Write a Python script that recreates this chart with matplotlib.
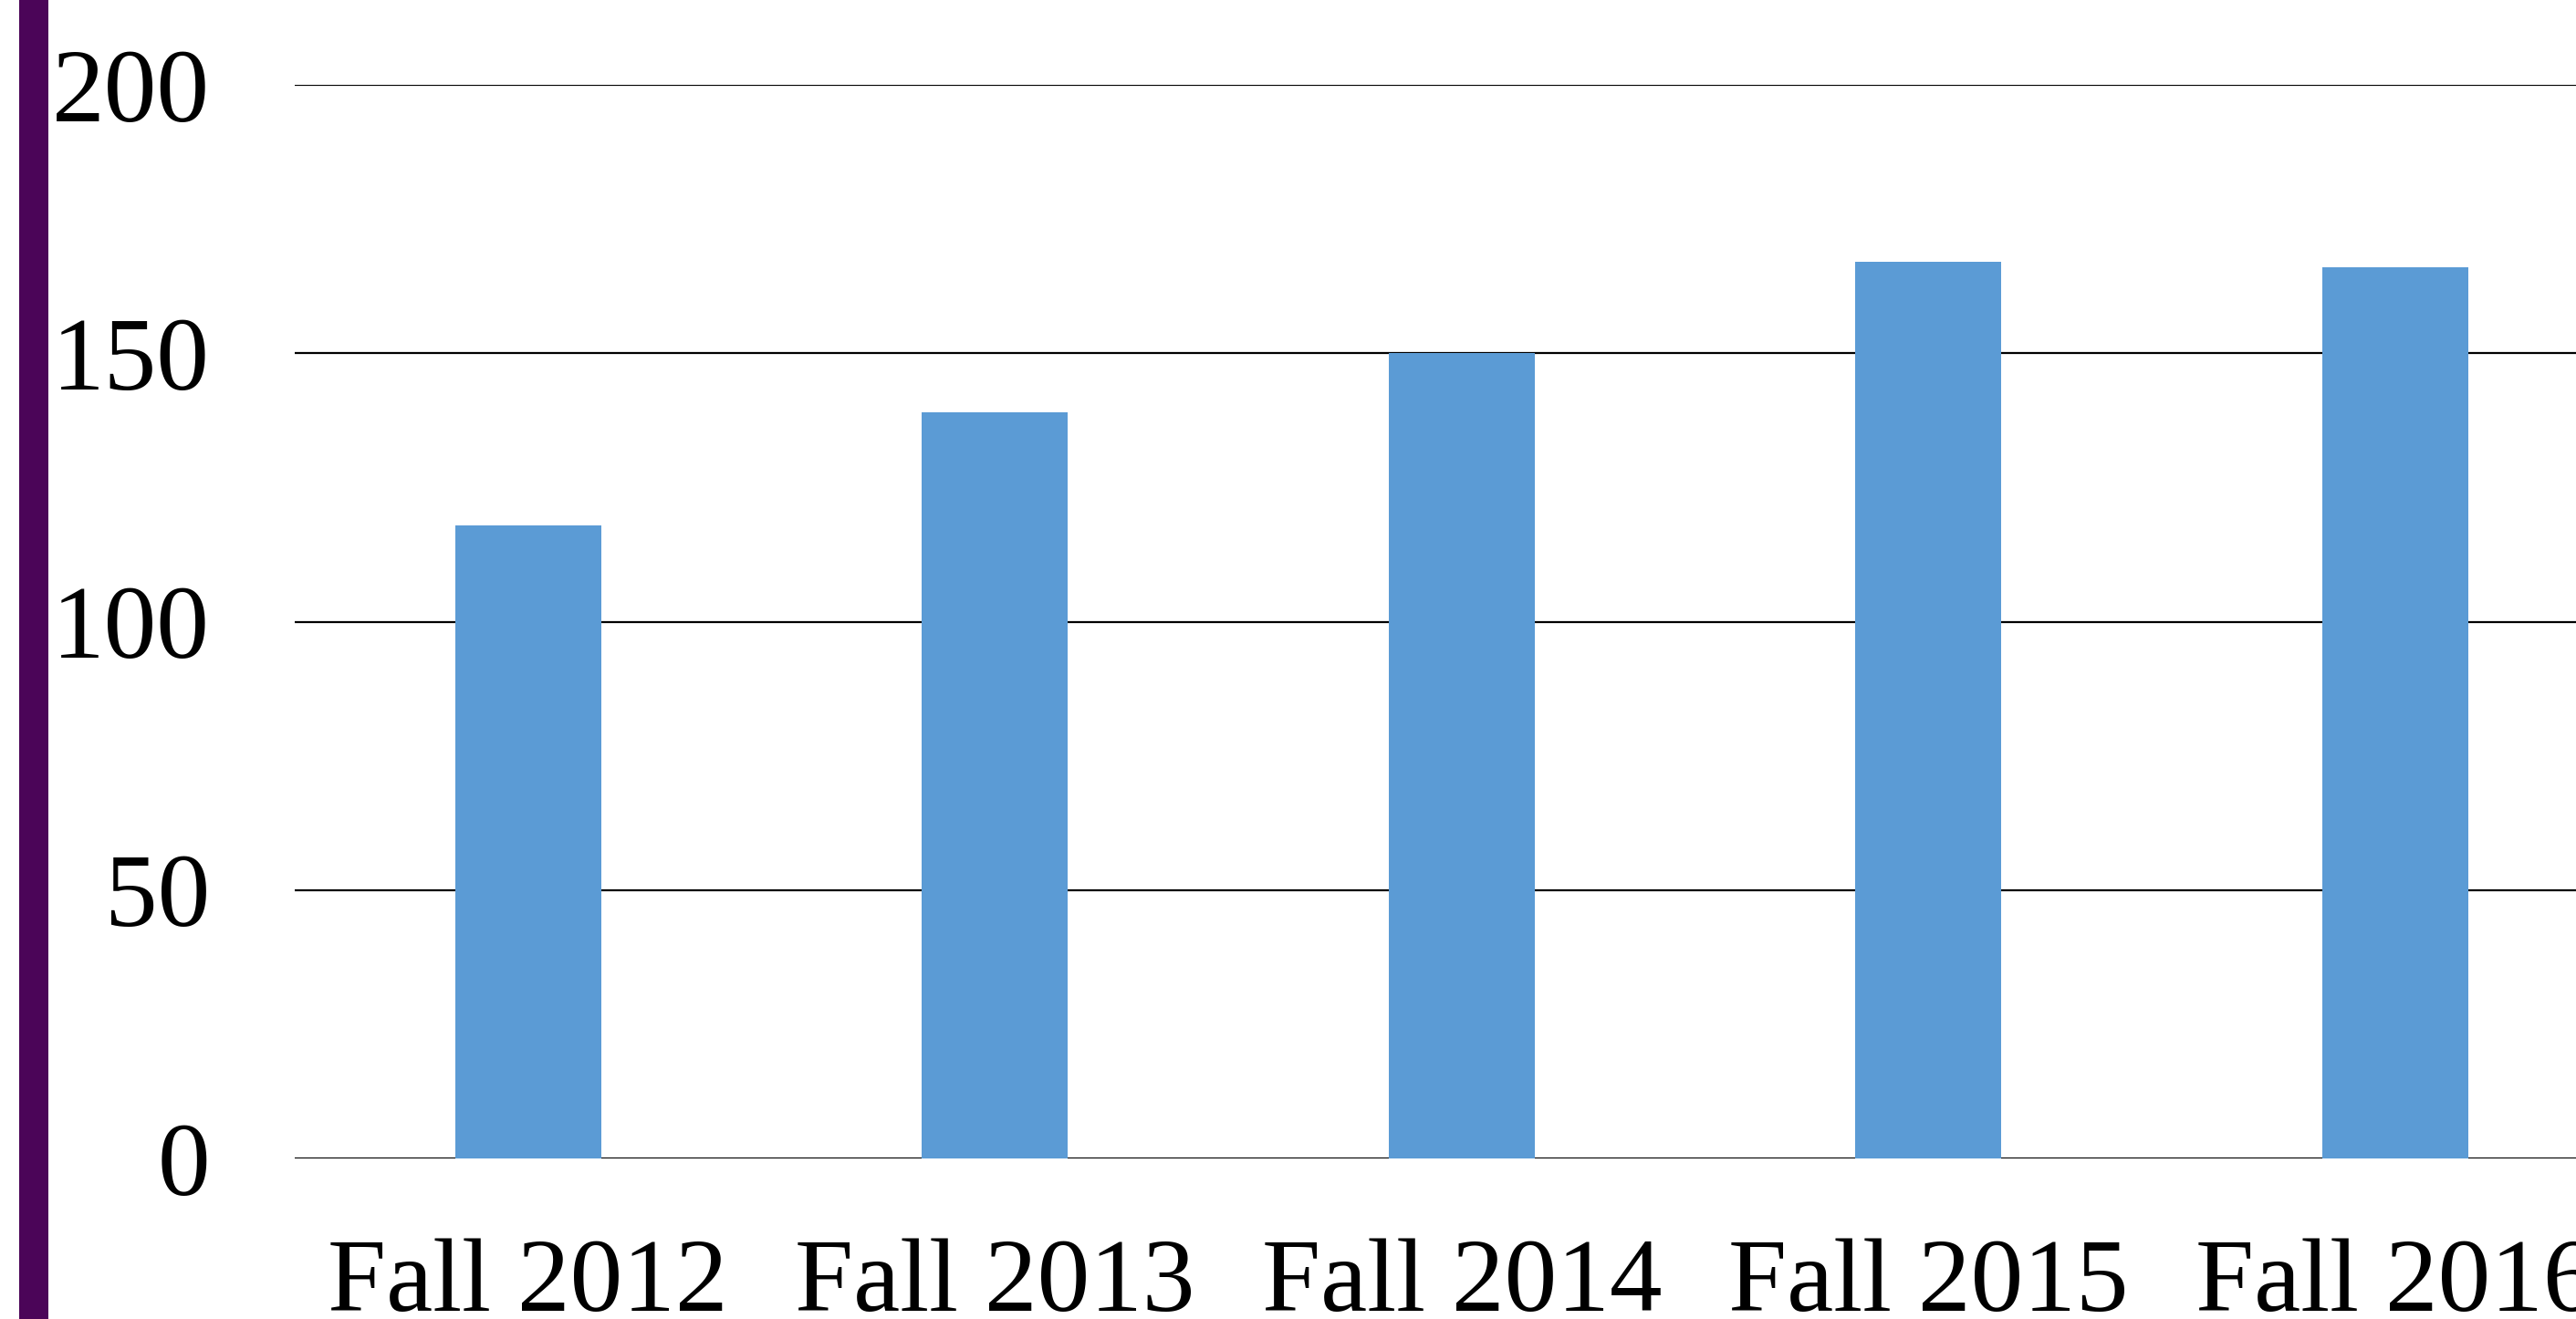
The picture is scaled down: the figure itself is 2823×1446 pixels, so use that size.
import matplotlib
matplotlib.use("Agg")
import matplotlib.pyplot as plt
from matplotlib.patches import Rectangle

categories = ["Fall 2012", "Fall 2013", "Fall 2014", "Fall 2015", "Fall 2016"]
values = [118, 139, 150, 167, 166]
yticks = [0, 50, 100, 150, 200]

W, H = 2823, 1446
fig = plt.figure(figsize=(W / 100, H / 100), dpi=100)
fig.patch.set_facecolor("white")

# purple stripe at the left edge
fig.patches.append(Rectangle((21 / W, 0), 32 / W, 1, transform=fig.transFigure,
                             facecolor="#4B0558", edgecolor="none"))

left = 323 / W
bottom = 1 - 1270 / H
top = 1 - 93 / H
ax = fig.add_axes([left, bottom, 1 - left, top - bottom])

x = list(range(len(categories)))
ax.bar(x, values, width=0.313, color="#5B9BD5", zorder=3)
ax.set_xlim(-0.5, (2823 - 581) / 511)
ax.set_ylim(0, 200)
ax.set_yticks(yticks)
ax.set_xticks(x)
ax.set_xticklabels(categories)
ax.yaxis.grid(True, color="black", linewidth=1.6, zorder=1)
ax.set_axisbelow(True)
for s in ax.spines.values():
    s.set_visible(False)
ax.tick_params(axis="both", length=0, labelsize=83, labelcolor="black")
ax.tick_params(axis="y", pad=67)
ax.tick_params(axis="x", pad=63)
for lab in ax.get_xticklabels() + ax.get_yticklabels():
    lab.set_fontfamily("Liberation Serif")
ax.set_facecolor("none")

fig.savefig("out.png", dpi=100)
